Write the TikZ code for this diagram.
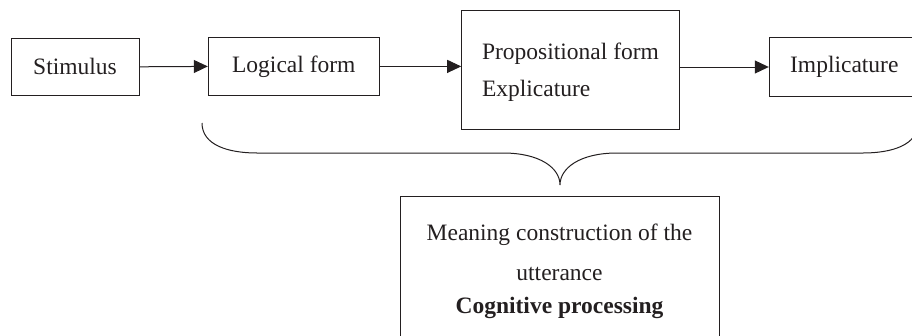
\documentclass[tikz,border=0pt]{standalone}
\usepackage{fontspec}
\setmainfont{Liberation Serif}
\usetikzlibrary{arrows.meta}
\definecolor{ink}{RGB}{35,31,32}
\tikzset{
	stage/.style={draw=ink, line width=1pt, text=ink, inner sep=0pt,
		font=\fontsize{23.5}{37}\selectfont},
	flow/.style={draw=ink, line width=1pt, -{Triangle[length=14pt, width=13pt]}},
}
\begin{document}
\begin{tikzpicture}[x=1pt, y=-1pt]
	\clip (0,0) rectangle (912,335);
			% top row
			\node[stage, minimum width=128, minimum height=57] (stim) at(75, 66.8){Stimulus};
			\node[stage, minimum width=171, minimum height=57.3] (logic) at(293.8, 66.4){Logical form};
			\node[stage, minimum width=217.6, minimum height=119.3, align=left] (prop) at(570.5, 69.7){\rule{0pt}{22pt}Propositional form\\Explicature};
			\node[stage, minimum width=150, minimum height=59.4] (impl) at(844.3, 67){Implicature};

			\draw[flow] (stim.east) -- (logic.west);
			\draw[flow] (logic.east) -- (logic.east -| prop.west);
			\draw[flow] (prop.east |- impl.west) -- (impl.west);

			% brace
			\draw[ink, line width=1pt] (202,123) .. controls (202,145) and (228,153) .. (257,153)
				-- (503,153) .. controls (540,153) and (560,168) .. (560,185)
				.. controls (560,168) and (580,153) .. (617,153)
				-- (863,153) .. controls (892,153) and (918,145) .. (918,123);

			% bottom box
			\node[stage, anchor=north, minimum width=319, inner ysep=27, align=center] (mean) at(559.5, 196)
				{Meaning construction of the\\[3pt]utterance\\[-4pt]\textbf{Cognitive processing}};
\end{tikzpicture}
\end{document}
